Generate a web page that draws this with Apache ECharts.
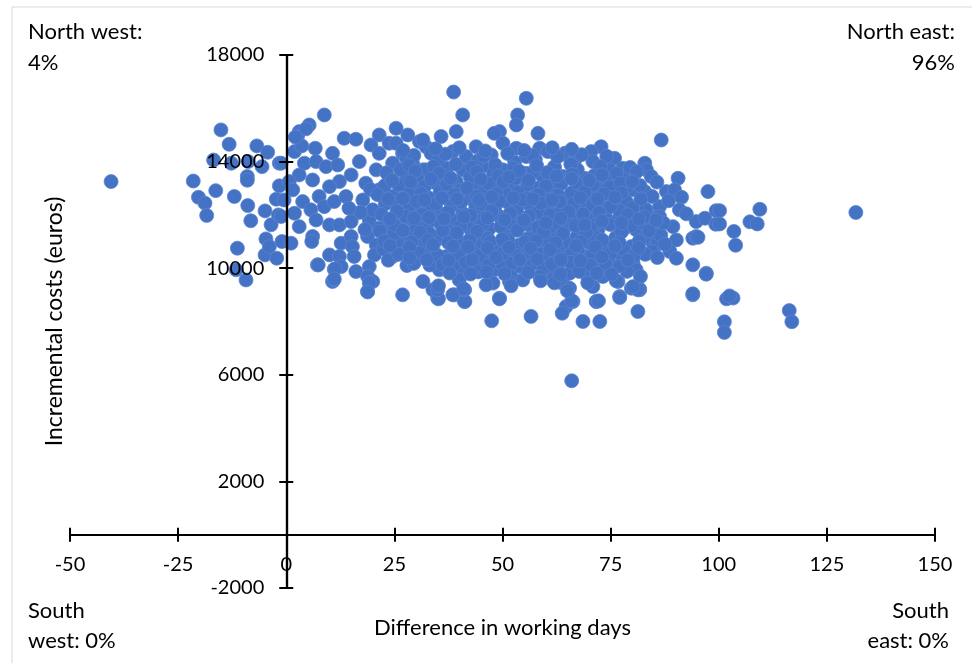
<!DOCTYPE html>
<html>
<head>
<meta charset="utf-8">
<script src="https://cdn.jsdelivr.net/npm/echarts@6/dist/echarts.min.js"></script>
<style>
html,body{margin:0;padding:0;background:#fff;}
#chart{width:972px;height:663px;}
</style>
</head>
<body>
<div id="chart"></div>
<script>
// ---- axis ticks ----
var xTicks = [-50, -25, 0, 25, 50, 75, 100, 125, 150];
var yTicks = [-2000, 2000, 6000, 10000, 14000, 18000];

// ---- data: [difference in working days, incremental costs (euros)] ----
var westPoints = [
  [-40.5,13250],[-21.5,13270],[-20.3,12660],[-18.8,12440],[-18.4,11980],[-16.3,12910],[-16.8,14060],
  [-15.1,15190],[-13.2,14650],[-12.7,13940],[-12.0,12690],[-11.3,10750],[-11.6,9940],[-9.3,9560],
  [-9.0,13440],[-9.0,13300],[-8.9,12350],[-8.8,14000],[-8.2,11780],[-6.8,14590],[-5.6,13810],
  [-4.9,12150],[-4.9,10500],[-4.7,11100],[-4.3,14350],[-3.9,10810],[-3.5,11630],[-2.3,12590],
  [-2.2,10375],[-1.8,12000],[-1.6,13940],[-1.6,13090],[-1.2,11940],[-1.0,11000],[-0.5,12560],[-1.2,13940]
];

var nearPoints = [
  [8.8,15750],[5.3,15375],[3.0,15125],[2.6,14940],[1.9,14375],[3.6,14590],[6.7,14500],[13.4,14875],
  [16.1,14840],[4.2,13940],[6.9,14000],[10.7,14310],[9.2,13810],[11.9,13875],[3.0,13500],[6.1,13310],
  [0.7,13250],[1.5,12940],[12.3,13250],[10.0,13060],[15.0,13500],[16.9,14000],[19.6,14625],[21.5,15000],
  [25.4,15250],[28.1,15000],[23.8,14690],[30.8,14750],[3.8,12500],[7.6,12690],[5.7,12190],[1.9,12060],
  [8.8,12310],[11.1,12500],[13.8,12690],[16.1,12060],[6.9,11810],[10.0,11625],[3.0,11560],[12.3,11625],
  [15.0,11750],[6.1,11190],[5.9,11000],[1.1,10940],[12.7,10940],[15.0,11190],[15.3,10810],[18.8,11190],
  [20.8,10875],[20.4,10500],[10.0,10500],[12.3,10440],[15.7,10440],[7.2,10125],[11.1,9960],[12.7,10060],
  [16.1,9875],[19.2,10060],[10.7,9500],[11.0,9560],[18.8,9690],[20.0,9500],[18.8,9125],[26.9,9000],
  [24.6,10440],[25.4,10750],[26.0,10940],[23.8,11060],[23.1,11560],[19.2,11810],[20.0,12190],[17.7,12560],
  [21.5,12940],[18.4,13190],[23.8,13310],[20.8,13690],[24.6,13940],[21.5,14310],[26.9,14310],[29.2,13940],
  [27.7,13440],[30.0,12940],[26.9,12440],[30.8,12190],[29.2,11810],[26.2,11690],[32.3,11560],[31.6,10940],
  [29.2,10690],[30.0,10310],[25.4,14690],[32.3,14560],[31.6,13690],[32.3,12690],
  [4.6,15230],[2.1,14920],[11.3,9975],[7.4,10125],[11.1,9600],[19.2,9450],[18.8,9110],
  [17.2,12100],[14.5,12250],[19.5,12950],[22.9,12420],[24.7,12700],[22.8,13100],[26.4,13700],[27.8,14120],
  [21.4,11500],[18.2,11450],[24.9,11300],[22.4,10720],[23.6,10300],[27.9,10100]
];

var midPoints = [
  [38.7,16610],[40.8,15750],[53.5,15750],[53.2,15375],[39.3,15125],[49.3,15125],[48.1,15060],[58.2,15060],
  [35.8,14940],[31.6,14810],[43.9,14560],[50.1,14690],[53.2,14500],[58.6,14500],[60.5,14375],[64.4,14310],
  [33.5,14310],[38.5,14375],[41.6,14190],[47.4,14250],[55.5,14190],[62.0,13750],[32.3,13690],[37.0,13750],
  [40.8,13690],[45.4,13810],[50.1,13690],[55.5,13560],[59.3,13440],[64.0,13375],[34.7,13190],[39.3,13250],
  [43.9,13190],[48.5,13060],[52.4,13060],[57.8,13000],[62.4,12940],[33.1,12625],[37.7,12625],[42.4,12625],
  [46.2,12560],[50.9,12500],[56.3,12375],[60.9,12310],[65.1,12375],[35.4,12060],[40.8,12060],[45.4,12060],
  [49.3,11940],[53.9,11940],[59.3,11810],[64.0,11810],[32.3,11625],[37.7,11560],[42.4,11500],[47.0,11500],
  [51.6,11375],[57.0,11310],[62.4,11250],[34.7,11060],[40.0,11000],[44.7,10940],[49.3,10940],[53.9,10875],
  [59.3,10810],[64.7,10810],[31.6,10440],[37.0,10440],[41.6,10375],[46.2,10310],[51.6,10310],[57.8,10190],
  [61.6,9940],[35.4,9940],[40.4,9810],[48.1,9940],[52.0,9690],[59.0,9690],[33.9,9190],[35.0,8875],
  [38.9,9000],[41.2,9190],[41.2,8750],[49.3,8875],[47.8,9440],[54.7,9560],[64.0,9440],[64.7,8560],
  [55.5,16375],[62.0,13810],[64.8,14250],
  [35.2,14050],[44.2,14020],[52.8,13980],[57.6,14080],
  [30.3,13420],[36.4,13480],[42.5,13430],[47.9,13540],[53.1,13380],[57.2,13620],[61.4,13250],
  [28.3,12820],[35.6,12880],[40.2,12930],[45.3,12820],[50.4,12880],[55.0,12720],[59.8,12650],
  [28.5,12330],[32.9,12250],[38.2,12350],[43.8,12300],[48.2,12260],[53.3,12220],[58.2,12100],[62.8,12050],
  [27.6,11950],[34.5,11800],[39.4,11780],[44.8,11760],[51.7,11700],[56.1,11640],[61.2,11560],
  [28.1,11250],[33.1,11300],[37.6,11220],[42.9,11200],[46.6,11120],[51.3,11060],[55.8,11100],[60.4,11020],
  [27.8,10620],[33.7,10700],[39.0,10680],[43.2,10600],[48.0,10620],[55.6,10560],[62.2,10540],
  [33.2,10120],[38.9,10150],[44.2,10080],[49.9,10140],[54.1,10060],[59.4,10000],[63.1,10180],
  [47.5,8025],[56.6,8190],[63.8,8310],[49.3,8850],[41.3,8750],[35.2,8850],[51.6,9500],[46.2,9375],
  [41.2,9190],[38.5,9000],[35.0,9190],[31.6,9500],[40.0,9560],[61.6,9560],[58.6,9690],[63.6,9460],
  [62.0,9450],[44.4,9860],[58.8,9525],[52.0,9340],[35.2,9340],[41.0,9225]
];

var farPoints = [
  [86.7,14810],[72.8,14560],[70.5,14375],[64.7,14310],[66.7,14060],[75.9,14125],[82.9,13940],[83.3,13690],
  [77.8,13750],[74.8,13690],[70.9,14000],[84.4,13440],[90.6,13375],[64.0,13440],[69.0,13375],[74.0,13310],
  [76.7,13310],[68.6,13000],[72.5,12940],[80.2,12940],[82.9,12875],[87.9,12875],[89.8,12940],[91.4,12660],
  [97.5,12875],[64.7,12560],[67.8,12500],[71.7,12500],[75.9,12560],[78.6,12500],[81.7,12440],[86.3,12310],
  [90.9,12190],[67.1,12060],[70.1,11940],[74.0,11875],[76.7,11810],[80.2,11810],[84.0,11940],[86.3,11940],
  [94.8,11750],[96.8,11875],[64.7,11560],[68.6,11440],[72.1,11440],[80.9,11440],[84.4,11560],[89.4,11560],
  [65.5,10940],[70.1,10940],[74.8,10940],[79.8,10810],[84.8,10940],[90.2,11060],[94.0,11125],[94.8,11190],
  [88.7,10625],[90.2,10375],[64.7,10440],[69.0,10440],[72.5,10310],[77.5,10440],[80.2,10190],[80.9,9940],
  [85.6,10875],[97.1,9810],[65.5,9810],[69.7,9690],[73.2,9690],[76.7,9500],[79.8,9250],[81.7,9190],
  [94.0,9000],[66.3,8750],[71.7,8750],[77.1,8940],
  [99.4,12160],[99.3,11650],[95.2,11160],[94.0,10125],[84.6,10625],[81.9,9690],[81.7,9210],[76.3,9525],
  [67.3,13700],[72.3,13640],[79.1,13450],[65.9,12820],[70.4,12720],[74.8,13050],[78.9,13060],
  [69.5,12230],[73.6,12280],[77.1,12150],[83.2,12200],[66.4,11780],[71.9,11700],[78.4,11520],[82.3,11700],
  [67.2,11180],[71.3,11200],[76.2,11150],[82.6,11120],[86.6,11240],[67.4,10680],[72.9,10640],[78.1,10700],
  [83.0,10520],[67.8,10120],[75.3,10100],[78.8,9880],
  [68.6,8000],[72.5,8000],[81.3,8375],[66.1,8750],[71.7,8750],[77.1,8900],[81.3,9190],[80.2,9310],
  [70.9,9310],[65.5,9250],[72.2,8775],[66.0,8775],[65.0,9150],[69.7,9450],[66.0,5775]
];

var densePoints = [
  [29.5,14230],[36.8,14280],[45.6,14210],[51.2,14300],[56.9,14240],[62.7,14180],[68.3,14260],[74.1,14200],
  [28.4,13860],[34.1,13820],[39.2,13900],[43.0,13790],[48.3,13880],[52.6,13760],[57.9,13850],[65.8,13900],[72.6,13820],[79.5,13780],
  [23.2,13580],[29.8,13640],[35.3,13560],[44.1,13620],[49.0,13470],[53.8,13650],[60.4,13590],[66.1,13520],[71.2,13470],[76.4,13560],[81.0,13620],
  [26.0,13120],[32.0,13060],[37.1,13150],[41.8,13010],[46.6,13180],[50.2,13240],[55.7,13130],[60.0,13080],[63.6,13180],[67.0,13210],[71.0,13120],[77.3,13190],[81.8,13100],[85.7,13230],
  [21.1,12760],[31.2,12800],[38.9,12760],[44.0,12700],[48.7,12790],[53.5,12840],[58.3,12760],[62.9,12730],[69.0,12860],[73.4,12780],[77.5,12820],[84.6,12690],
  [25.3,12460],[30.1,12510],[34.6,12420],[40.4,12480],[45.0,12400],[49.2,12520],[54.7,12560],[58.9,12440],[63.3,12500],[66.5,12430],[70.8,12380],[75.0,12310],[80.1,12260],[88.4,12530],
  [22.0,12020],[25.6,12130],[31.4,12010],[37.4,12090],[42.6,11980],[47.5,12150],[51.8,12070],[56.2,11960],[61.0,12000],[65.3,12120],[68.6,12030],[72.3,12090],[78.9,12010],[82.7,11930],[92.5,12040],
  [25.0,11620],[30.0,11560],[35.8,11640],[40.3,11580],[45.4,11650],[49.6,11560],[54.3,11620],[58.2,11540],[62.9,11680],[66.9,11600],[70.3,11520],[74.9,11640],[79.9,11600],[87.2,11700],
  [21.6,11390],[27.0,11420],[31.0,11350],[36.2,11410],[39.4,11330],[44.1,11380],[53.4,11420],[59.5,11350],[64.0,11300],[69.3,11330],[77.5,11360],[83.9,11400],
  [22.7,11010],[29.0,10980],[32.8,11060],[37.5,10960],[42.4,11040],[47.1,10990],[50.0,11090],[55.2,10980],[57.8,11030],[62.3,10950],[68.0,11000],[73.0,11060],[77.0,10960],[81.6,11010],[87.6,10900],
  [26.0,10520],[30.8,10560],[35.0,10480],[39.9,10530],[44.7,10460],[50.0,10540],[53.3,10470],[58.8,10520],[60.9,10430],[66.0,10560],[70.8,10490],[74.9,10530],[80.4,10460],[85.8,10400],
  [29.5,10180],[36.1,10140],[41.5,10210],[46.8,10120],[52.3,10190],[56.3,10090],[61.4,10160],[65.8,10230],[70.3,10110],[73.8,10180],[77.1,10080],
  [37.8,9820],[42.6,9780],[46.3,9860],[50.5,9790],[55.9,9840],[63.4,9760],[67.7,9880],[71.8,9810],[75.2,9770]
];

var corePoints = [
  [27.0,14420],[34.5,14480],[40.0,14520],[46.0,14400],[55.0,14420],[61.5,14520],[66.0,14460],
  [24.5,13300],[28.7,13250],[33.5,13350],[38.0,13380],[45.0,13340],[51.5,13420],[56.0,13300],[62.5,13460],
  [66.0,13360],[70.0,13290],[73.0,13500],[80.0,13250],
  [23.5,12600],[27.0,12620],[32.0,12560],[36.0,12640],[39.5,12600],[44.5,12560],[47.5,12680],[52.5,12640],
  [57.0,12600],[61.5,12560],[68.0,12640],[72.0,12600],[76.0,12660],[82.0,12600],
  [24.0,11850],[29.5,11880],[33.0,11900],[36.5,11850],[41.0,11920],[46.5,11880],[50.5,11820],[55.0,11800],
  [60.0,11700],[63.5,11880],[69.0,11620],[73.0,11760],[77.5,11700],[81.5,11850],[85.5,11800],
  [24.0,10850],[28.5,10800],[34.0,10880],[38.5,10820],[42.0,10800],[46.5,10760],[51.5,10780],[56.5,10750],
  [61.0,10700],[67.0,10840],[71.5,10800],[76.0,10840],[81.5,10760],
  [28.5,10380],[32.5,10320],[37.5,10300],[43.0,10320],[48.5,10400],[54.0,10320],[58.0,10340],[63.5,10320],
  [68.0,10280],[73.0,10420],[79.0,10300]
];

var eastPoints = [
  [131.7,12090],[109.5,12210],[107.2,11740],[108.9,11660],[103.5,11380],[103.9,10860],[100.2,12160],
  [100.2,11660],[101.8,8850],[103.3,8880],[116.3,8410],[116.9,7990],[101.3,7990],[101.3,7590],
  [102.5,8960],[94.0,9040],[97.1,9775]
];

var allPoints = westPoints.concat(nearPoints, midPoints, farPoints, densePoints, corePoints, eastPoints);

var FONT = 'Lato';
var axisColor = '#000';
var plain = function (v) { return String(v); };

// plot area (px)
var W = 972, H = 663;
var plot = {left: 70, right: 37, top: 55, bottom: 75};
var xMin = xTicks[0], xMax = xTicks[xTicks.length - 1];
var yMin = yTicks[0], yMax = yTicks[yTicks.length - 1];
var plotW = W - plot.left - plot.right;
var plotH = H - plot.top - plot.bottom;
// the crossing axes sit where the other axis has value 0
var yAxisLeft = plot.left + plotW * (0 - xMin) / (xMax - xMin);
var xAxisBottom = plot.bottom + plotH * (0 - yMin) / (yMax - yMin);

var lineStyle = {color: axisColor, width: 2.2};
var tickStyle = {color: axisColor, width: 2};

var chart = echarts.init(document.getElementById('chart'), null, {renderer: 'canvas'});
chart.setOption({
  backgroundColor: '#fff',
  animation: false,
  grid: [
    {left: plot.left, right: plot.right, top: plot.top, bottom: plot.bottom, outerBoundsMode: 'none'},
    {left: yAxisLeft, right: plot.right, top: plot.top, bottom: plot.bottom, outerBoundsMode: 'none'},
    {left: plot.left, right: plot.right, top: plot.top, bottom: xAxisBottom, outerBoundsMode: 'none'}
  ],
  xAxis: [
    {gridIndex: 0, type: 'value', min: xMin, max: xMax, show: false},
    {gridIndex: 1, type: 'value', min: 0, max: 1, show: false},
    {
      gridIndex: 2, type: 'value', min: xMin, max: xMax, interval: 25, position: 'bottom', z: 10,
      axisLine: {onZero: false, lineStyle: lineStyle},
      axisTick: {show: true, length: 7, lineStyle: tickStyle},
      axisLabel: {fontFamily: FONT, fontSize: 20, color: '#000', margin: 20, formatter: plain},
      splitLine: {show: false},
      name: 'Difference in working days', nameLocation: 'middle', nameGap: 82,
      nameTextStyle: {fontFamily: FONT, fontSize: 22, color: '#000'}
    },
    {
      gridIndex: 2, type: 'value', min: xMin, max: xMax, interval: 25, position: 'bottom', z: 10,
      axisLine: {onZero: false, lineStyle: lineStyle},
      axisTick: {show: true, inside: true, length: 7, lineStyle: tickStyle},
      axisLabel: {show: false},
      splitLine: {show: false}
    }
  ],
  yAxis: [
    {gridIndex: 0, type: 'value', min: yMin, max: yMax, show: false},
    {
      gridIndex: 1, type: 'value', min: yMin, max: yMax, interval: 4000, position: 'left', z: 10,
      axisLine: {show: true, onZero: false, lineStyle: lineStyle},
      axisTick: {show: true, length: 7, lineStyle: tickStyle},
      axisLabel: {fontFamily: FONT, fontSize: 20, color: '#000', margin: 22, formatter: plain},
      splitLine: {show: false},
      name: 'Incremental costs (euros)', nameLocation: 'middle', nameGap: 220, nameRotate: 90,
      nameTextStyle: {fontFamily: FONT, fontSize: 23, color: '#000'}
    },
    {
      gridIndex: 1, type: 'value', min: yMin, max: yMax, interval: 4000, position: 'left', z: 10,
      axisLine: {show: true, onZero: false, lineStyle: lineStyle},
      axisTick: {show: true, inside: true, length: 7, lineStyle: tickStyle},
      axisLabel: {show: false},
      splitLine: {show: false}
    },
    {gridIndex: 2, type: 'value', min: 0, max: 1, show: false}
  ],
  series: [{
    type: 'scatter',
    xAxisIndex: 0, yAxisIndex: 0,
    data: allPoints,
    symbol: 'circle',
    symbolSize: 14,
    z: 1,
    itemStyle: {color: '#4472C4', borderColor: '#5a84cf', borderWidth: 0.8, opacity: 1}
  }],
  graphic: [
    {type: 'rect', silent: true, z: -10, shape: {x: 12, y: 7, width: 980, height: 680},
     style: {fill: 'none', stroke: '#d9d9d9', lineWidth: 1}},
    {type: 'text', left: 28, top: 21, style: {text: 'North west:', font: '22px Lato', fill: '#000'}},
    {type: 'text', left: 28, top: 52, style: {text: '4%', font: '22px Lato', fill: '#000'}},
    {type: 'text', right: 17, top: 21, style: {text: 'North east:', font: '22px Lato', fill: '#000'}},
    {type: 'text', right: 17, top: 52, style: {text: '96%', font: '22px Lato', fill: '#000'}},
    {type: 'text', left: 28, top: 600, style: {text: 'South', font: '22px Lato', fill: '#000'}},
    {type: 'text', left: 28, top: 630, style: {text: 'west: 0%', font: '22px Lato', fill: '#000'}},
    {type: 'text', right: 23, top: 600, style: {text: 'South', font: '22px Lato', fill: '#000'}},
    {type: 'text', right: 23, top: 630, style: {text: 'east: 0%', font: '22px Lato', fill: '#000'}}
  ]
});
</script>
</body>
</html>
